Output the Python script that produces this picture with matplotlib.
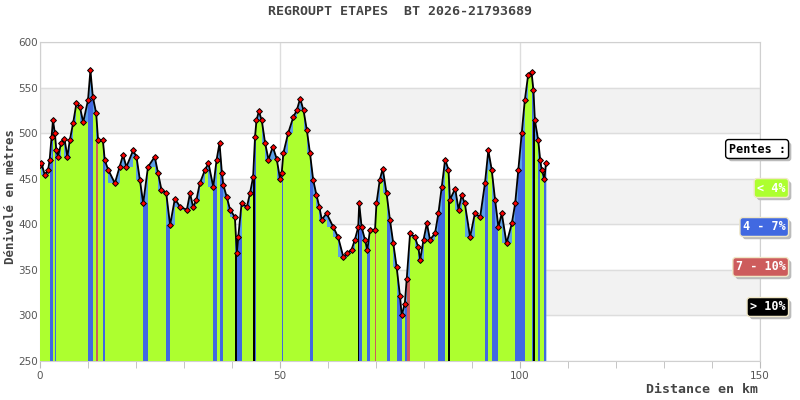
import matplotlib
matplotlib.use('Agg')
import matplotlib.pyplot as plt
import matplotlib.patheffects as pe

# profile (km, metres)
dist = [0.0, 0.3, 1.0, 1.7, 2.0, 2.4, 2.7, 3.1, 3.4, 3.75, 4.4, 5.1, 5.7, 6.2, 6.9,
        7.6, 8.3, 9.0, 10.0, 10.5, 11.0, 11.7, 12.1, 13.1, 13.5, 14.2, 15.6, 16.6,
        17.3, 18.0, 19.4, 20.1, 20.8, 21.5, 22.5, 23.9, 24.6, 25.3, 26.3, 27.1,
        28.1, 29.2, 30.6, 31.25, 31.9, 32.6, 33.3, 34.4, 35.1, 36.1, 36.8, 37.4,
        37.9, 38.2, 38.9, 39.6, 40.6, 41.0, 41.3, 42.0, 43.1, 43.75, 44.4, 44.8,
        45.1, 45.6, 46.2, 46.9, 47.6, 48.5, 49.3, 50.0, 50.35, 50.7, 51.7, 52.8,
        53.5, 54.2, 54.9, 55.6, 56.25, 56.9, 57.6, 58.2, 58.7, 59.7, 61.1, 62.1,
        63.2, 63.9, 64.9, 65.6, 66.3, 66.5, 67.0, 67.7, 68.2, 68.75, 69.8, 70.1,
        70.8, 71.4, 72.2, 72.9, 73.6, 74.3, 75.0, 75.35, 76.0, 76.4, 77.1, 78.1,
        78.8, 79.2, 79.9, 80.6, 81.25, 82.3, 83.0, 83.7, 84.4, 85.1, 85.4, 86.5,
        87.2, 87.85, 88.5, 89.6, 90.6, 91.7, 92.7, 93.4, 94.1, 94.8, 95.5, 96.2,
        97.2, 98.3, 99.0, 99.65, 100.35, 101.0, 101.7, 102.4, 102.8, 103.1, 103.8,
        104.2, 104.5, 105.1, 105.4]
elev = [465, 467, 454, 460, 470, 496, 514, 500, 481, 474, 489, 494, 474, 492, 511,
        533, 529, 512, 536, 569, 540, 522, 492, 492, 470, 460, 445, 463,
        476, 463, 481, 474, 449, 423, 463, 474, 456, 438, 434, 399,
        428, 419, 416, 434, 419, 427, 445, 460, 467, 441, 471, 489,
        456, 443, 430, 416, 408, 368, 386, 423, 419, 434, 452, 496,
        514, 524, 514, 489, 471, 485, 472, 450, 456, 478, 500, 518,
        525, 538, 525, 503, 478, 449, 432, 419, 405, 412, 397, 386,
        364, 368, 372, 383, 397, 423, 397, 383, 372, 394, 394, 423,
        449, 461, 434, 405, 379, 353, 321, 300, 313, 340, 390, 386,
        375, 361, 383, 401, 383, 390, 412, 441, 471, 460, 427, 439,
        416, 432, 423, 386, 412, 408, 445, 481, 460, 427, 397, 412,
        379, 401, 423, 460, 500, 536, 564, 567, 547, 514, 492,
        471, 460, 450, 467]

legend_labels = ['< 4%', '4 - 7%', '7 - 10%', '> 10%']
legend_colors = ['#adff2f', '#4169e1', '#cd5c5c', '#000000']

mono = 'DejaVu Sans Mono'
fig = plt.figure(figsize=(8, 4), dpi=100)
ax = fig.add_axes([0.05, 0.0975, 0.9, 0.7975])
ax.set_xlim(0, 150)
ax.set_ylim(250, 600)

# alternating bands
for lo in (300, 400, 500):
    ax.axhspan(lo, lo + 50, color='#f2f2f2', zorder=0)

# light blue area under profile
ax.fill_between(dist, 250, elev, color='#5ca0e8', lw=0, zorder=2)

# slope-coloured bars
for i in range(len(dist) - 1):
    dx = dist[i + 1] - dist[i]
    slope = abs(elev[i + 1] - elev[i]) / (dx * 1000) * 100
    if slope < 4:
        c = legend_colors[0]
    elif slope < 7:
        c = legend_colors[1]
    elif slope < 10:
        c = legend_colors[2]
    else:
        c = legend_colors[3]
    ax.bar(dist[i], min(elev[i], elev[i + 1]) - 250, width=dx, bottom=250,
           align='edge', color=c, lw=0, zorder=3)

ax.plot(dist, elev, color='black', lw=1.3, zorder=4)
ax.plot(dist, elev, ls='none', marker='D', markersize=3.0, mfc='red',
        mec='black', mew=0.7, zorder=5)

ax.set_xticks([0, 50, 100, 150])
ax.set_xticks(range(0, 151, 10), minor=True)
ax.set_yticks(range(250, 601, 50))
ax.grid(True, color='#dddddd', lw=1, zorder=1)
ax.set_axisbelow(True)
ax.tick_params(axis='y', length=0, labelsize=7.5, labelcolor='#555555', pad=1.5)
ax.tick_params(axis='x', which='both', direction='out', length=5, color='#bbbbbb',
               labelsize=7.5, labelcolor='#555555', pad=2)
for s in ax.spines.values():
    s.set_color('#d0d0d0')

fig.text(0.5, 0.972, 'REGROUPT ETAPES  BT 2026-21793689', ha='center', va='center',
         family=mono, fontweight='bold', fontsize=9.5, color='#444444')
fig.text(0.013, 0.51, 'Dénivelé en mètres', rotation=90, ha='center', va='center',
         family=mono, fontweight='bold', fontsize=9, color='#444444')
fig.text(0.947, 0.027, 'Distance en km', ha='right', va='center',
         family=mono, fontweight='bold', fontsize=9.5, color='#444444')

# legend boxes
shadow = [pe.SimplePatchShadow(offset=(2, -2), shadow_rgbFace='#bbbbbb', alpha=1), pe.Normal()]
t = fig.text(0.982, 0.6275, 'Pentes :', ha='right', va='center', family=mono,
             fontweight='bold', fontsize=8.5, color='black',
             bbox=dict(boxstyle='round,pad=0.25', fc='white', ec='black', lw=1))
t.get_bbox_patch().set_path_effects(shadow)
ys = [0.53, 0.4325, 0.3325, 0.2325]
for lab, col, y in zip(legend_labels, legend_colors, ys):
    t = fig.text(0.982, y, lab, ha='right', va='center', family=mono,
                 fontweight='bold', fontsize=8.5, color='white',
                 bbox=dict(boxstyle='round,pad=0.25', fc=col, ec='#f0e8c8', lw=1))
    t.get_bbox_patch().set_path_effects(shadow)

plt.savefig('out.png', dpi=100)
